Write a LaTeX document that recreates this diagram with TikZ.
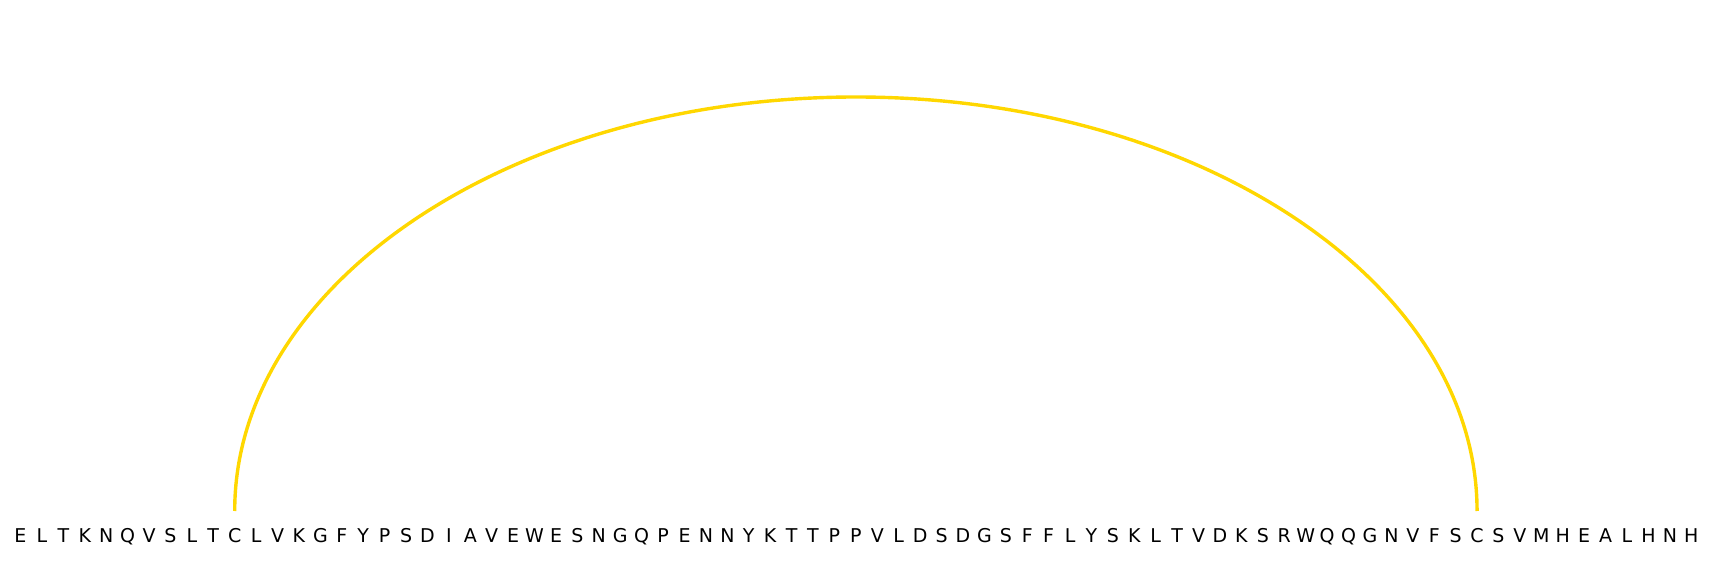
\documentclass[tikz,border=0pt]{standalone}
\usepackage{fontspec}
\setmainfont{DejaVu Sans}
\usetikzlibrary{calc}
\definecolor{bondgold}{HTML}{FFD700}

\begin{document}
\begin{tikzpicture}[x=1pt,y=1pt,line cap=butt,
  residue/.style={font=\fontsize{19}{19}\selectfont,inner sep=0pt,
    text height=14pt,text depth=0pt,outer ysep=17pt},
  bond/.style={draw=bondgold,line width=3.4pt}]

% parâmetros da sequência
\def\xo{20.5}   % posição do primeiro resíduo
\def\dx{21.42}  % espaçamento entre resíduos
\def\ry{414}    % altura da ponte

\useasboundingbox (0,0) rectangle (1713,560);

%---------------------------
% sequência
%---------------------------
\foreach \aa [count=\i] in {E,L,T,K,N,Q,V,S,L,T,C,L,V,K,G,F,Y,P,S,D,
  I,A,V,E,W,E,S,N,G,Q,P,E,N,N,Y,K,T,T,P,P,V,L,D,S,D,G,S,F,F,L,
  Y,S,K,L,T,V,D,K,S,R,W,Q,Q,G,N,V,F,S,C,S,V,M,H,E,A,L,H,N,H}
  \node[residue] (r\i) at ({\xo+(\i-1)*\dx},25) {\aa};

%---------------------------
% ponte dissulfeto C11--C69
%---------------------------
\draw[bond] let \p1=(r11.north), \p2=(r69.north) in
  (\p1) arc[start angle=180,end angle=0,
    x radius={(\x2-\x1)/2},y radius=\ry pt];

\end{tikzpicture}
\end{document}
